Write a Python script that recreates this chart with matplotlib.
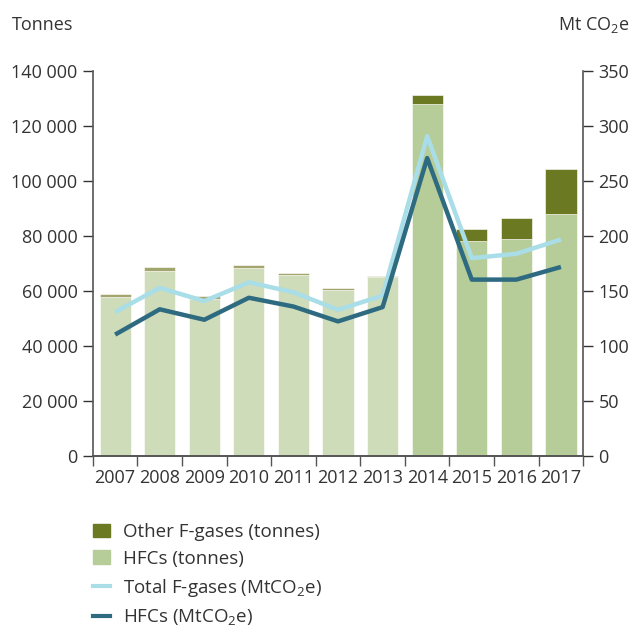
import matplotlib
matplotlib.use("Agg")
import matplotlib.pyplot as plt
from matplotlib.patches import Patch
from matplotlib.lines import Line2D
from matplotlib.ticker import FuncFormatter, FixedLocator

plt.rcParams['font.family'] = ['Open Sans', 'DejaVu Sans']
plt.rcParams['mathtext.fontset'] = 'custom'
plt.rcParams['mathtext.rm'] = 'Open Sans'

years = ["2007", "2008", "2009", "2010", "2011", "2012", "2013", "2014", "2015", "2016", "2017"]
hfc_tonnes = [58000, 67500, 57300, 68500, 66000, 60600, 65000, 128100, 78100, 78800, 88100]
total_tonnes = [58800, 68900, 58100, 69600, 66700, 61300, 65600, 131300, 82600, 86600, 104300]
other_tonnes = [t - h for t, h in zip(total_tonnes, hfc_tonnes)]
total_mt = [131, 153, 141, 158, 149, 133, 146, 291, 180, 184, 197]
hfc_mt = [110.5, 133.5, 124, 144, 136, 122.5, 135.5, 271, 160.5, 160.5, 172]

old_hfc, old_other = "#cfdcba", "#a2a56c"
new_hfc, new_other = "#b6cd99", "#6b7a22"
light_blue, dark_teal = "#a9dde8", "#2e6b80"
txt = "#333333"
fs = 13

fig = plt.figure(figsize=(6.36, 6.30), dpi=100)
ax = fig.add_axes([0.146, 0.276, 0.771, 0.611])
ax2 = ax.twinx()

x = list(range(len(years)))
hcols = [old_hfc if i < 7 else new_hfc for i in x]
ocols = [old_other if i < 7 else new_other for i in x]
ax.bar(x, hfc_tonnes, width=0.70, color=hcols, edgecolor="white", linewidth=0.4, zorder=2)
ax.bar(x, other_tonnes, bottom=hfc_tonnes, width=0.70, color=ocols, edgecolor="white", linewidth=0.4, zorder=2)

ax2.plot(x, total_mt, color=light_blue, lw=3.2, solid_capstyle='butt', zorder=3)
ax2.plot(x, hfc_mt, color=dark_teal, lw=3.2, solid_capstyle='butt', zorder=3)

ax.set_xlim(-0.5, len(years) - 0.5)
ax.set_ylim(0, 140000)
ax2.set_ylim(0, 350)
ax.set_yticks(range(0, 140001, 20000))
ax2.set_yticks(range(0, 351, 50))
ax.yaxis.set_major_formatter(FuncFormatter(lambda v, p: f"{int(v):,}".replace(",", " ")))

ax.set_xticks(x)
ax.set_xticklabels(years)
ax.xaxis.set_minor_locator(FixedLocator([i - 0.5 for i in range(len(years) + 1)]))
ax.tick_params(axis='x', which='major', length=0, labelsize=13, colors=txt, pad=9)
ax.tick_params(axis='x', which='minor', length=7, width=1, color="#555555")
ax.tick_params(axis='y', length=7, width=1, labelsize=fs, colors=txt, pad=4)
ax2.tick_params(axis='y', length=7, width=1, labelsize=fs, colors=txt, pad=4)
for lab in ax.get_yticklabels() + ax2.get_yticklabels() + ax.get_xticklabels():
    lab.set_color(txt)

for a in (ax, ax2):
    a.spines['top'].set_visible(False)
    for s in ('left', 'right', 'bottom'):
        a.spines[s].set_color("#555555")
        a.spines[s].set_linewidth(1.2)
ax.spines['right'].set_visible(False)
ax2.spines['left'].set_visible(False)

fig.text(12/636, 1 - 25/630, "Tonnes", fontsize=fs, color=txt, va='center', ha='left')
fig.text(630/636, 1 - 25/630, "Mt CO$_2$e", fontsize=fs, color=txt, va='center', ha='right')

handles = [Patch(color=new_other), Patch(color=new_hfc),
           Line2D([], [], color=light_blue, lw=3), Line2D([], [], color=dark_teal, lw=3)]
labels = ["Other F-gases (tonnes)", "HFCs (tonnes)", "Total F-gases (MtCO$_2$e)", "HFCs (MtCO$_2$e)"]
leg = fig.legend(handles, labels, loc='upper left', bbox_to_anchor=(93/636, 1 - 523/630),
                 frameon=False, fontsize=13.5, handlelength=0.9, handleheight=0.75,
                 handletextpad=0.7, labelspacing=0.47, borderaxespad=0, borderpad=0)
for t in leg.get_texts():
    t.set_color(txt)

fig.savefig("out.png", dpi=100)
